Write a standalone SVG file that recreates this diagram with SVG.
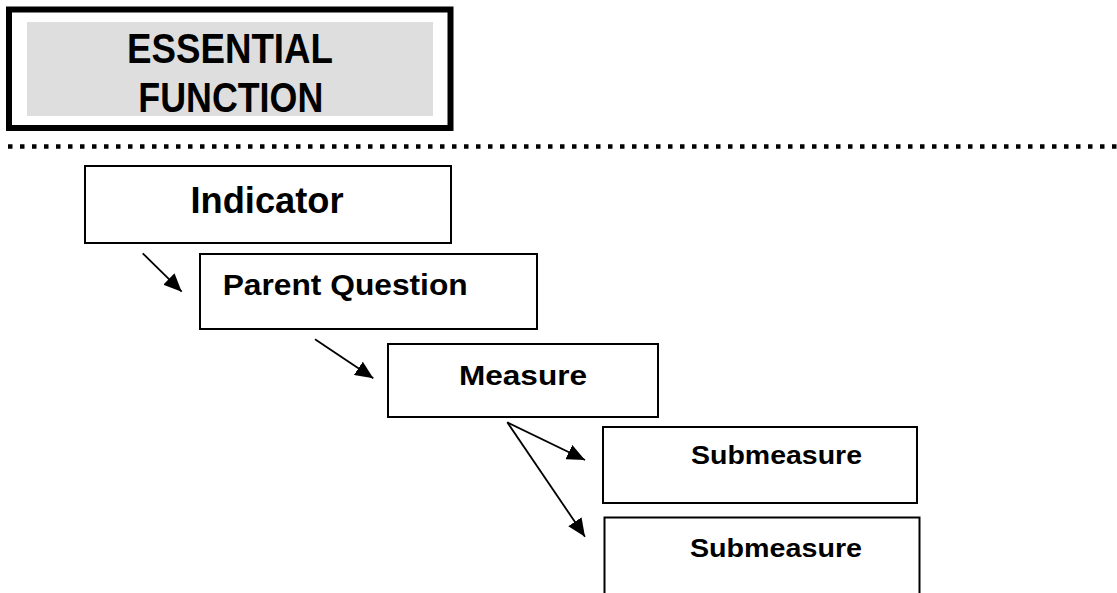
<svg xmlns="http://www.w3.org/2000/svg" width="1117" height="593" viewBox="0 0 1117 593">
<style>
.box{fill:#fff;stroke:#000;stroke-width:2}
.t{font-family:"Liberation Sans",Arial,sans-serif;font-weight:bold;fill:#000}
.c{stroke:#000;stroke-width:1.8;fill:none;marker-end:url(#ah)}
</style>
<defs>
<marker id="ah" markerUnits="userSpaceOnUse" markerWidth="19" markerHeight="16" refX="18" refY="8" orient="auto">
<path d="M0,0 L18,8 L0,16 Z" fill="#000"/>
</marker>
</defs>
<rect width="1117" height="593" fill="#fff"/>
<g id="essential-function">
<rect x="9" y="9.5" width="441.5" height="118.5" fill="#fff" stroke="#000" stroke-width="6"/>
<rect x="27" y="22" width="406" height="94" fill="#dedede"/>
<text class="t" x="230" y="63" font-size="42" text-anchor="middle" textLength="206" lengthAdjust="spacingAndGlyphs">ESSENTIAL</text>
<text class="t" x="230.8" y="111.5" font-size="42" text-anchor="middle" textLength="185" lengthAdjust="spacingAndGlyphs">FUNCTION</text>
</g>
<line id="divider" x1="8" y1="146.5" x2="1117" y2="146.5" stroke="#000" stroke-width="4.5" stroke-dasharray="4.5 7.5"/>
<g id="indicator">
<rect class="box" x="85" y="166" width="366" height="77"/>
<text class="t" x="267" y="213" font-size="36" text-anchor="middle" textLength="153" lengthAdjust="spacingAndGlyphs">Indicator</text>
</g>
<g id="parent-question">
<rect class="box" x="200" y="254" width="337" height="75"/>
<text class="t" x="222.7" y="295" font-size="29" textLength="245" lengthAdjust="spacingAndGlyphs">Parent Question</text>
</g>
<g id="measure">
<rect class="box" x="388" y="344" width="270" height="73"/>
<text class="t" x="523" y="385" font-size="28" text-anchor="middle" textLength="128" lengthAdjust="spacingAndGlyphs">Measure</text>
</g>
<g id="submeasure-1">
<rect class="box" x="603" y="427" width="314" height="76"/>
<text class="t" x="691" y="464.3" font-size="25" textLength="171" lengthAdjust="spacingAndGlyphs">Submeasure</text>
</g>
<g id="submeasure-2">
<rect class="box" x="604.5" y="517.5" width="315" height="90"/>
<text class="t" x="690" y="556.7" font-size="25" textLength="172" lengthAdjust="spacingAndGlyphs">Submeasure</text>
</g>
<g id="connectors">
<line class="c" x1="142.7" y1="253.3" x2="181.7" y2="291.7"/>
<line class="c" x1="315" y1="339.3" x2="373.3" y2="378.3"/>
<line class="c" x1="507.3" y1="422.3" x2="585" y2="460"/>
<line class="c" x1="507.3" y1="422.3" x2="585" y2="536.7"/>
</g>
</svg>
